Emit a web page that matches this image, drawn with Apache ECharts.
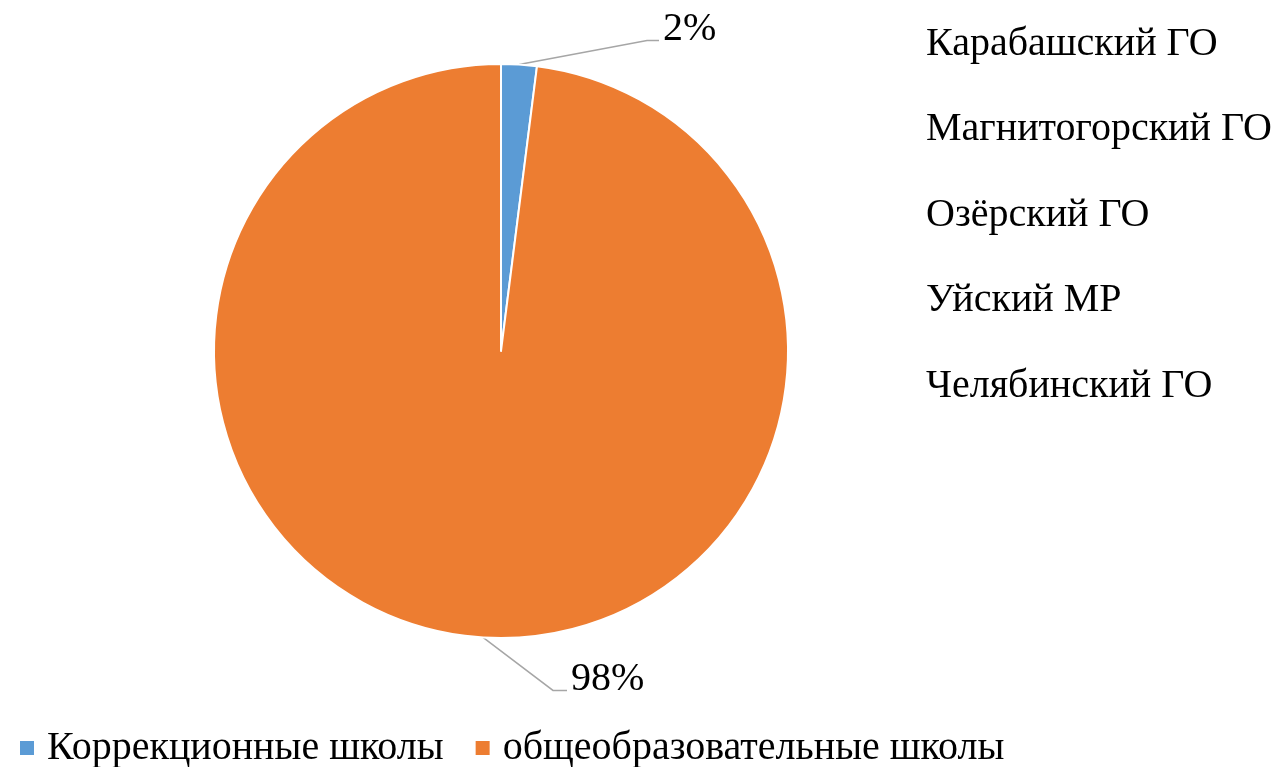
<!DOCTYPE html>
<html>
<head>
<meta charset="utf-8">
<script src="https://cdn.jsdelivr.net/npm/echarts@6/dist/echarts.min.js"></script>
<style>
  html, body { margin: 0; padding: 0; background: #fff; }
  #pie { width: 1274px; height: 767px; }
</style>
</head>
<body>
<div id="pie"></div>
<script>
// доля школ, %
const categories = ['Коррекционные школы', 'общеобразовательные школы']
const shares = [2, 98]
const districts = ['Карабашский ГО', 'Магнитогорский ГО', 'Озёрский ГО', 'Уйский МР', 'Челябинский ГО']
const colors = ['#5B9BD5', '#ED7D31']

const font = '"Liberation Serif", "Times New Roman", serif'

// elbow offset from the slice edge, then horizontal run
const leader = [
  { dx: 128, dy: -24, run: 12 },
  { dx: 70, dy: 53, run: 14 }
]

let chart = echarts.init(document.getElementById('pie'))

const option = {
  animation: false,
  color: colors,
  legend: {
    data: categories,
    left: 13,
    top: 723,
    icon: 'rect',
    itemWidth: 16,
    itemHeight: 16,
    itemGap: 30,
    textStyle: {
      fontFamily: font,
      fontSize: 40,
      color: '#000',
      padding: [0, 0, 0, 7]
    }
  },
  graphic: districts.map((name, i) => ({
    type: 'text',
    left: 926,
    top: 24 + i * 85.5,
    style: {
      text: name,
      fontFamily: font,
      fontSize: 40,
      fill: '#000'
    }
  })),
  series: [
    {
      type: 'pie',
      center: [501, 351],
      radius: 287,
      startAngle: 90,
      clockwise: true,
      emphasis: { disabled: true },
      itemStyle: {
        borderColor: '#fff',
        borderWidth: 2
      },
      label: {
        show: true,
        formatter: '{d}%',
        fontFamily: font,
        fontSize: 40,
        color: '#000'
      },
      labelLine: {
        show: true,
        length: 20,
        length2: 10,
        lineStyle: { color: '#A6A6A6', width: 1.5 }
      },
      labelLayout: function (params) {
        const p0 = params.labelLinePoints[0]
        const l = leader[params.dataIndex]
        const p1 = [p0[0] + l.dx, p0[1] + l.dy]
        const p2 = [p1[0] + l.run, p1[1]]
        return {
          x: p2[0] + 4,
          y: p2[1] - 11,
          align: 'left',
          verticalAlign: 'middle',
          labelLinePoints: [p0, p1, p2]
        }
      },
      data: categories.map((name, i) => ({ name: name, value: shares[i] }))
    }
  ]
}

chart.setOption(option)
</script>
</body>
</html>
